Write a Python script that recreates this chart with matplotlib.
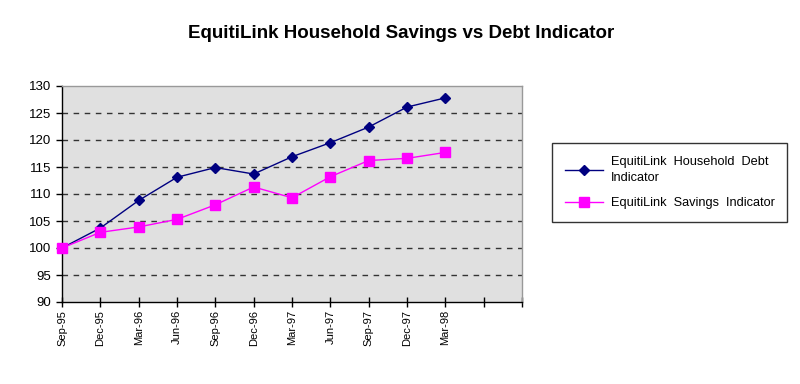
import matplotlib
matplotlib.use("Agg")
import matplotlib.pyplot as plt

plt.rcParams['font.family'] = ['Liberation Sans', 'DejaVu Sans']

categories = ["Sep-95", "Dec-95", "Mar-96", "Jun-96", "Sep-96", "Dec-96",
              "Mar-97", "Jun-97", "Sep-97", "Dec-97", "Mar-98"]
debt = [100, 103.7, 108.8, 113.1, 114.9, 113.7, 116.9, 119.5, 122.4, 126.1, 127.8]
savings = [100, 102.9, 103.9, 105.3, 108.0, 111.3, 109.3, 113.2, 116.2, 116.6, 117.7]

fig = plt.figure(figsize=(8, 3.84), dpi=100)
ax = fig.add_axes([62/800, 1-302/384, 460/800, 216/384])
ax.set_facecolor('#e0e0e0')

x = list(range(len(categories)))
ax.plot(x, debt, color='#000080', marker='D', markersize=5.5, lw=1,
        label='EquitiLink  Household  Debt\nIndicator', clip_on=False, zorder=3)
ax.plot(x, savings, color='#ff00ff', marker='s', markersize=6.5, lw=1,
        label='EquitiLink  Savings  Indicator', clip_on=False, zorder=3)

ax.set_xlim(0, 12)
ax.set_ylim(90, 130)
ax.set_yticks(range(90, 131, 5))
ax.set_xticks(range(0, 13))
ax.set_xticklabels(categories + ["", ""], rotation=90, fontsize=8)
ax.tick_params(axis='y', labelsize=9.5, length=4, direction='out', width=1)
ax.tick_params(axis='x', length=7, direction='inout', width=1, pad=2)

for v in range(95, 130, 5):
    ax.axhline(v, color='#333333', lw=1, ls=(0, (4, 4)), zorder=1)

for s in ['left', 'bottom']:
    ax.spines[s].set_color('black')
    ax.spines[s].set_linewidth(1)
for s in ['top', 'right']:
    ax.spines[s].set_color('#999999')
    ax.spines[s].set_linewidth(1)

fig.text(401/800, 1-34/384, 'EquitiLink Household Savings vs Debt Indicator',
         ha='center', va='center', fontsize=13.5, fontweight='bold')

leg = fig.legend(loc='upper left', bbox_to_anchor=(552/800, 1-143/384),
                 frameon=True, fancybox=False, fontsize=9.2, handlelength=3.0,
                 handletextpad=0.6, borderpad=1.0, labelspacing=1.0,
                 edgecolor='black', borderaxespad=0)
leg.get_frame().set_linewidth(1)
for t in leg.get_texts():
    t.set_linespacing(1.5)

fig.savefig('out.png', dpi=100, facecolor='white')
